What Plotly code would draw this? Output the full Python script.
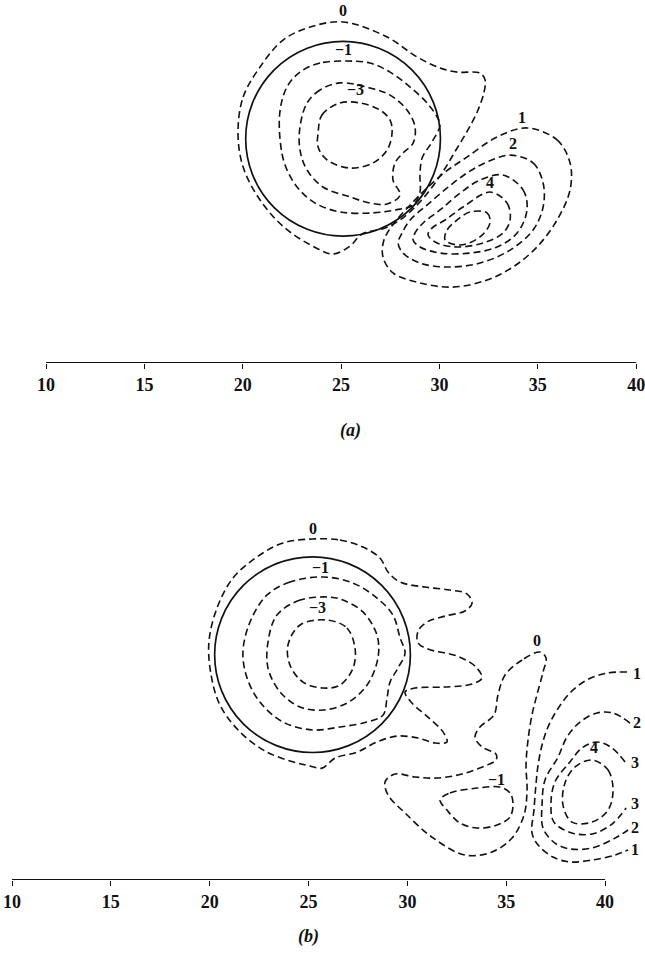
import plotly.graph_objects as go

# ---------------------------------------------------------------------------
# Tick labels shared by both panels
# ---------------------------------------------------------------------------
tick_vals = [10, 15, 20, 25, 30, 35, 40]
tick_text = ["10", "15", "20", "25", "30", "35", "40"]

# ---------------------------------------------------------------------------
# Panel (a): cylinder outline (centre x, centre y, radius)
# ---------------------------------------------------------------------------
a_circle = (25.1, 11.4, 4.95)

# contour 0
a_c0_x = [19.76, 20.02, 20.88, 22.05, 23.42, 25.10, 27.34, 28.86, 30.03, 30.90, 32.06,
          32.32, 32.27, 31.96, 31.45, 30.84, 30.23, 29.52, 28.76, 28.00, 27.23, 26.07,
          25.46, 24.59, 23.83, 22.15, 20.88, 20.02, 19.76]
a_c0_y = [11.69, 13.52, 15.05, 16.42, 17.08, 17.34, 16.57, 15.56, 15.00, 14.79, 14.74,
          14.39, 13.78, 12.86, 11.85, 10.83, 9.81, 8.80, 7.93, 7.27, 6.86, 6.56,
          5.95, 5.54, 5.80, 6.86, 8.29, 9.96, 11.69]
# contour -1
a_m1_x = [25.30, 23.93, 22.91, 22.25, 21.90, 21.90, 22.15, 22.76, 23.68, 24.95, 26.62,
          27.74, 28.66, 29.01, 29.01, 29.12, 29.62, 30.03, 29.88, 29.37, 28.51, 27.49,
          26.47, 25.30]
a_m1_y = [15.35, 15.25, 14.79, 14.03, 12.86, 11.34, 10.07, 8.95, 8.13, 7.68, 7.63,
          7.78, 8.03, 8.69, 9.56, 10.42, 11.24, 12.10, 12.51, 13.22, 14.03, 14.79,
          15.25, 15.35]
# contour -2
a_m2_x = [24.95, 23.93, 23.27, 22.91, 22.91, 23.27, 24.08, 25.46, 26.47, 27.34, 28.00,
          27.64, 27.74, 28.15, 28.66, 28.76, 28.35, 27.49, 26.47, 24.95]
a_m2_y = [14.24, 13.88, 13.22, 12.00, 10.83, 9.81, 8.95, 8.44, 8.13, 8.08, 8.54,
          9.30, 10.17, 10.68, 11.18, 12.00, 12.86, 13.62, 13.98, 14.24]
# contour -3
a_m3_x = [23.83, 24.03, 24.95, 25.96, 26.98, 27.49, 27.59, 27.34, 26.62, 25.46, 24.29,
          23.83, 23.83]
a_m3_y = [11.69, 12.61, 13.22, 13.22, 12.86, 12.35, 11.69, 10.83, 10.17, 9.91, 10.32,
          10.98, 11.69]
# contour 1
a_p1_x = [34.45, 35.98, 36.64, 36.64, 35.98, 34.96, 33.74, 32.42, 30.69, 29.01, 27.64,
          27.13, 27.18, 27.74, 28.51, 29.27, 30.29, 31.40, 32.93, 34.45]
a_p1_y = [11.95, 11.34, 10.17, 8.80, 7.27, 5.90, 4.88, 4.22, 3.86, 4.07, 4.58,
          5.39, 6.25, 7.17, 8.03, 8.80, 9.71, 10.47, 11.49, 11.95]
# contour 2
a_p2_x = [33.59, 34.76, 35.27, 35.27, 34.76, 33.59, 32.06, 30.39, 29.01, 28.15, 27.90,
          28.10, 28.51, 29.37, 30.39, 31.40, 32.42, 33.59]
a_p2_y = [10.57, 10.17, 9.15, 7.93, 6.76, 5.74, 5.08, 4.88, 5.08, 5.59, 6.10,
          6.61, 7.27, 8.03, 8.90, 9.66, 10.22, 10.57]
# contour 3
a_p3_x = [33.23, 34.25, 34.45, 33.95, 32.93, 31.56, 30.03, 29.01, 28.66, 28.76, 29.17,
          30.03, 31.05, 32.06, 33.23]
a_p3_y = [9.56, 8.80, 7.78, 6.61, 5.90, 5.59, 5.59, 5.90, 6.25, 6.61, 7.12,
          7.78, 8.64, 9.30, 9.56]
# contour 4
a_p4_x = [32.57, 33.44, 33.59, 33.23, 32.22, 30.90, 29.88, 29.42, 29.62, 30.29, 31.20, 32.57]
a_p4_y = [8.69, 8.13, 7.27, 6.61, 6.10, 5.90, 6.10, 6.51, 6.86, 7.27, 7.93, 8.69]
# contour 5
a_p5_x = [31.56, 32.42, 32.57, 32.06, 31.05, 30.29, 30.39, 30.90, 31.56]
a_p5_y = [7.68, 7.63, 7.12, 6.41, 6.00, 6.25, 6.76, 7.27, 7.68]

a_label_text = ["0", "\u22121", "\u22123", "1", "2", "4"]
a_label_x = [25.10, 25.10, 25.71, 34.20, 33.74, 32.57]
a_label_y = [17.90, 15.96, 13.88, 12.46, 11.18, 9.20]

# ---------------------------------------------------------------------------
# Panel (b)
# ---------------------------------------------------------------------------
b_circle = (25.2, 11.4, 4.95)

# contour 0 around the cylinder (three fingers on the lee side)
b_c0_x = [25.22, 26.59, 27.75, 28.61, 29.02, 29.63, 30.89, 32.15, 33.01, 33.27, 32.91,
          31.90, 30.99, 30.54, 30.54, 31.04, 32.51, 33.47, 33.77, 33.27, 31.90, 30.38,
          29.88, 30.23, 31.04, 31.80, 32.00, 31.40, 30.54, 29.47, 28.46, 27.45, 26.34,
          25.68, 25.07, 24.42, 22.90, 21.53, 20.52, 20.07, 19.96, 20.37, 21.18, 22.39,
          23.71, 25.22]
b_c0_y = [17.25, 17.20, 16.84, 16.29, 15.58, 15.07, 14.82, 14.67, 14.47, 14.01, 13.61,
          13.35, 13.05, 12.59, 11.99, 11.68, 11.33, 10.77, 10.22, 9.91, 9.76, 9.71,
          9.51, 8.95, 8.24, 7.49, 6.98, 6.93, 7.18, 7.28, 6.98, 6.47, 6.17,
          5.66, 5.77, 5.92, 6.47, 7.49, 8.85, 10.37, 12.04, 13.76, 15.28, 16.34,
          17.05, 17.25]
# contour -1
b_m1_x = [25.73, 24.06, 22.90, 22.04, 21.68, 21.89, 22.54, 23.71, 25.22, 26.59, 27.96,
          28.77, 28.97, 29.12, 29.52, 29.88, 29.63, 29.27, 28.46, 27.25, 25.73]
b_m1_y = [15.33, 15.07, 14.42, 13.05, 11.53, 10.22, 9.00, 7.99, 7.59, 7.74, 7.99,
          8.35, 9.21, 10.01, 10.72, 11.48, 12.24, 13.40, 14.26, 15.02, 15.33]
# contour -2
b_m2_x = [26.08, 24.57, 23.40, 22.95, 22.95, 23.56, 24.57, 25.73, 26.94, 27.96, 28.51,
          28.46, 27.75, 26.74, 26.08]
b_m2_y = [14.31, 14.16, 13.40, 12.04, 10.72, 9.51, 8.75, 8.60, 8.95, 9.86, 11.23,
          12.39, 13.56, 14.16, 14.31]
# contour -3
b_m3_x = [25.93, 26.94, 27.35, 27.25, 26.59, 25.73, 24.72, 24.06, 23.96, 24.57, 25.93]
b_m3_y = [13.15, 12.75, 11.73, 10.72, 9.86, 9.71, 10.01, 10.87, 11.89, 12.90, 13.15]
# contour 0, downstream tongue
b_t0_x = [36.71, 35.80, 34.94, 34.58, 34.38, 33.67, 33.42, 33.77, 34.48, 34.48, 33.92,
          32.76, 31.50, 30.38, 29.37, 28.87, 29.02, 29.88, 31.24, 32.91, 34.28, 35.29,
          35.90, 36.05, 36.00, 36.10, 36.30, 36.55, 36.86, 37.01, 36.71]
b_t0_y = [11.53, 11.13, 10.37, 9.36, 8.35, 7.74, 7.23, 6.73, 6.37, 6.07, 5.77,
          5.36, 5.16, 5.21, 5.36, 4.96, 4.30, 3.39, 2.17, 1.26, 1.42, 2.12,
          3.29, 4.55, 5.82, 7.08, 8.35, 9.36, 10.52, 11.23, 11.53]
# contour -1, downstream pocket
b_n1_x = [31.65, 32.15, 33.52, 34.68, 35.19, 35.34, 35.19, 34.53, 33.52, 32.66, 32.00, 31.65]
b_n1_y = [4.05, 4.40, 4.65, 4.70, 4.40, 3.89, 3.19, 2.78, 2.63, 2.88, 3.54, 4.05]
# positive contours, open towards the right edge
b_p1_x = [41.11, 40.10, 39.08, 38.22, 37.57, 37.11, 36.81, 36.61, 36.50, 36.40, 36.30,
          36.61, 37.36, 38.22, 39.34, 40.50, 41.16]
b_p1_y = [10.52, 10.47, 10.12, 9.46, 8.60, 7.74, 6.83, 5.82, 4.81, 3.54, 2.38,
          1.77, 1.16, 0.91, 1.01, 1.26, 1.52]
b_p2_x = [41.26, 40.40, 39.59, 38.73, 38.07, 37.62, 36.96, 36.81, 36.86, 37.46, 38.22,
          39.34, 40.50, 41.16]
b_p2_y = [7.94, 8.45, 8.45, 7.99, 7.23, 6.22, 5.06, 3.79, 2.63, 1.87, 1.57,
          1.62, 2.12, 2.53]
b_p3_x = [41.01, 40.35, 39.59, 38.83, 38.22, 37.46, 37.26, 37.41, 38.32, 39.34, 40.35, 41.06]
b_p3_y = [5.97, 6.68, 6.98, 6.68, 5.97, 4.96, 3.79, 2.93, 2.38, 2.33, 2.83, 3.64]
b_p4_x = [39.34, 40.15, 40.40, 40.15, 39.34, 38.32, 37.87, 37.97, 38.48, 39.34]
b_p4_y = [6.07, 5.56, 4.55, 3.54, 2.93, 2.93, 3.79, 4.91, 5.72, 6.07]

b_label_text = ["0", "\u22121", "\u22123", "0", "\u22121", "1", "2", "3", "4", "3", "2", "1"]
b_label_x = [25.22, 25.58, 25.43, 36.55, 34.53, 41.61, 41.61, 41.51, 39.44, 41.51, 41.51, 41.51]
b_label_y = [17.80, 15.83, 13.76, 12.14, 5.06, 10.47, 7.99, 5.92, 6.68, 3.89, 2.68, 1.52]

# ---------------------------------------------------------------------------
INK = "#111111"
DASH = "7px,4px"
SERIF = "Liberation Serif"

fig = go.Figure()


def add_contours(paths, xref, yref):
    for xs, ys in paths:
        fig.add_trace(go.Scatter(
            x=xs, y=ys, xaxis=xref, yaxis=yref, mode="lines",
            line=dict(color=INK, width=1.6, dash=DASH, shape="spline", smoothing=1.0),
            hoverinfo="skip", showlegend=False))


add_contours([(a_c0_x, a_c0_y), (a_m1_x, a_m1_y), (a_m2_x, a_m2_y), (a_m3_x, a_m3_y),
              (a_p1_x, a_p1_y), (a_p2_x, a_p2_y), (a_p3_x, a_p3_y), (a_p4_x, a_p4_y),
              (a_p5_x, a_p5_y)], "x", "y")
add_contours([(b_c0_x, b_c0_y), (b_m1_x, b_m1_y), (b_m2_x, b_m2_y), (b_m3_x, b_m3_y),
              (b_t0_x, b_t0_y), (b_n1_x, b_n1_y), (b_p1_x, b_p1_y), (b_p2_x, b_p2_y),
              (b_p3_x, b_p3_y), (b_p4_x, b_p4_y)], "x2", "y2")

label_font = dict(family=SERIF, size=16, color=INK, weight="bold")

# contour labels
for txt, lx, ly in zip(a_label_text, a_label_x, a_label_y):
    fig.add_annotation(x=lx, y=ly, xref="x", yref="y", text=txt, showarrow=False,
                       font=label_font)
for txt, lx, ly in zip(b_label_text, b_label_x, b_label_y):
    fig.add_annotation(x=lx, y=ly, xref="x2", yref="y2", text=txt, showarrow=False,
                       font=label_font)

# cylinder outlines
for (cx, cy, r), xr, yr in [(a_circle, "x", "y"), (b_circle, "x2", "y2")]:
    fig.add_shape(type="circle", xref=xr, yref=yr, x0=cx - r, x1=cx + r,
                  y0=cy - r, y1=cy + r, line=dict(color=INK, width=1.7))

# horizontal scale lines from 10 to 40
for xr, yr in [("x", "y"), ("x2", "y2")]:
    fig.add_shape(type="line", xref=xr, yref=yr, x0=tick_vals[0], x1=tick_vals[-1],
                  y0=0, y1=0, line=dict(color=INK, width=2))

# panel captions
caption_font = dict(family=SERIF, size=18, color=INK, weight="bold", style="italic")
fig.add_annotation(x=350 / 645, y=1 - 430 / 963, xref="paper", yref="paper",
                   xanchor="center", yanchor="middle",
                   text="(a)", showarrow=False, font=caption_font)
fig.add_annotation(x=308 / 645, y=1 - 936 / 963, xref="paper", yref="paper",
                   xanchor="center", yanchor="middle",
                   text="(b)", showarrow=False, font=caption_font)

axis_common = dict(showgrid=False, zeroline=False, showline=False,
                   ticks="outside", ticklen=5, tickwidth=1.4, tickcolor=INK,
                   tickvals=tick_vals, ticktext=tick_text,
                   ticklabeloverflow="allow",
                   tickfont=dict(family=SERIF, size=18, color=INK, weight="bold"))
yaxis_common = dict(showgrid=False, zeroline=False, showline=False,
                    showticklabels=False, ticks="")

fig.update_layout(
    width=645, height=963,
    margin=dict(l=0, r=0, t=0, b=0),
    paper_bgcolor="white", plot_bgcolor="white",
    showlegend=False,
    xaxis=dict(domain=[0, 1], range=[7.66, 40.45], anchor="y", **axis_common),
    yaxis=dict(domain=[1 - 363 / 963, 1], range=[0, 18.455], anchor="x", **yaxis_common),
    xaxis2=dict(domain=[0, 1], range=[9.393, 42.017], anchor="y2", **axis_common),
    yaxis2=dict(domain=[1 - 880 / 963, 1 - 470 / 963], range=[0, 20.74], anchor="x2",
                **yaxis_common),
)

fig.write_html("out.html")
